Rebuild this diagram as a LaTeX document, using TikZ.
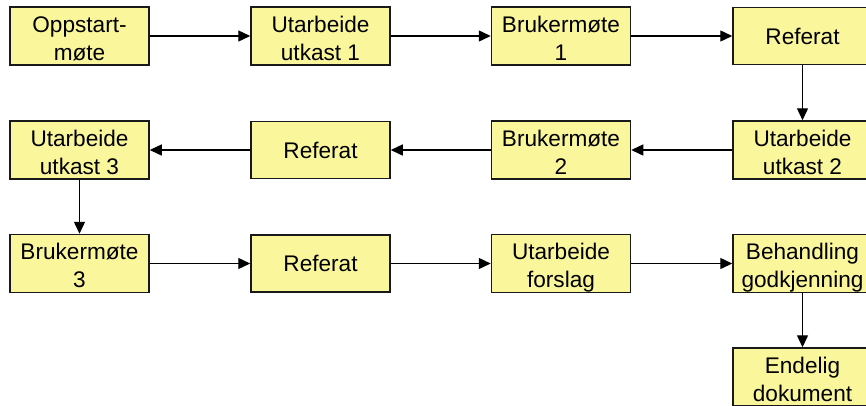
\documentclass[tikz,border=0pt]{standalone}
\usepackage{fontspec}
\setmainfont{Liberation Sans}
\usetikzlibrary{arrows.meta}
\definecolor{boxfill}{HTML}{FAF69C}
\newcommand\toprl{\rule{0pt}{25pt}}
\newcommand\botrl{\rule[-5pt]{0pt}{0pt}}
\tikzset{
  stepbox/.style={draw=black!90, line width=1.5pt, fill=boxfill, minimum width=139pt, minimum height=57pt, inner sep=0pt, align=center, font=\fontsize{22.6}{28}\selectfont},
  conn/.style={line width=1.4pt, -{Triangle[length=12pt,width=11pt]}}
}
\begin{document}
\begin{tikzpicture}[x=1pt,y=-1pt]
\useasboundingbox (0,0) rectangle (866,405);
\node[stepbox] (a1) at (79.5,36) {\toprl Oppstart-\\møte\botrl};
\node[stepbox] (a2) at (320.5,36) {\toprl Utarbeide\\utkast 1\botrl};
\node[stepbox] (a3) at (561,36) {\toprl Brukermøte\\1\botrl};
\node[stepbox] (a4) at (802.5,36) {Referat};
\node[stepbox] (b4) at (802.5,150) {\toprl Utarbeide\\utkast 2\botrl};
\node[stepbox] (b3) at (561,150) {\toprl Brukermøte\\2\botrl};
\node[stepbox] (b2) at (320.5,150) {Referat};
\node[stepbox] (b1) at (79.5,150) {\toprl Utarbeide\\utkast 3\botrl};
\node[stepbox] (c1) at (79.5,263.5) {\toprl Brukermøte\\3\botrl};
\node[stepbox] (c2) at (320.5,263.5) {Referat};
\node[stepbox] (c3) at (561,263.5) {\toprl Utarbeide\\forslag\botrl};
\node[stepbox] (c4) at (802.5,263.5) {\toprl Behandling\\godkjenning\botrl};
\node[stepbox] (d4) at (802.5,377) {\toprl Endelig\\dokument\botrl};
\draw[conn] (a1) -- (a2);
\draw[conn] (a2) -- (a3);
\draw[conn] (a3) -- (a4);
\draw[conn] (a4) -- (b4);
\draw[conn] (b4) -- (b3);
\draw[conn] (b3) -- (b2);
\draw[conn] (b2) -- (b1);
\draw[conn] (b1) -- (c1);
\draw[conn] (c1) -- (c2);
\draw[conn] (c2) -- (c3);
\draw[conn] (c3) -- (c4);
\draw[conn] (c4) -- (d4);
\end{tikzpicture}
\end{document}
